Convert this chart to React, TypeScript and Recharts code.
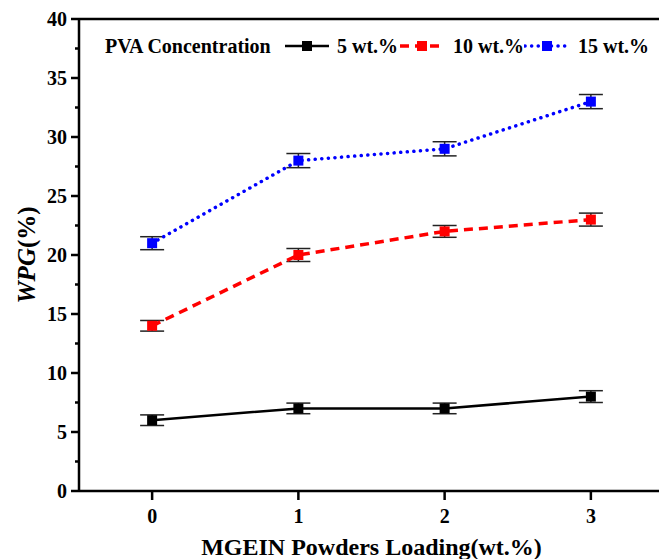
import { LineChart, Line, XAxis, YAxis, ErrorBar, ReferenceLine } from 'recharts';

const loadings = [0, 1, 2, 3];
const wpg5 = [6, 7, 7, 8];
const wpg10 = [14, 20, 22, 23];
const wpg15 = [21, 28, 29, 33];
const err5 = [0.45, 0.45, 0.45, 0.5];
const err10 = [0.45, 0.55, 0.5, 0.55];
const err15 = [0.55, 0.6, 0.6, 0.6];
const yTicks = [0, 2.5, 5, 7.5, 10, 12.5, 15, 17.5, 20, 22.5, 25, 27.5, 30, 32.5, 35, 37.5, 40];
const xTicks = [0, 1, 2, 3];

const data = loadings.map((x, i) => ({
  x,
  a: wpg5[i],
  b: wpg10[i],
  c: wpg15[i],
  ea: err5[i],
  eb: err10[i],
  ec: err15[i],
}));

const font = '"Liberation Serif", "Times New Roman", serif';

const series = [
  { key: 'a', err: 'ea', name: '5 wt.%', color: '#000000', dash: undefined as string | undefined, width: 2.5 },
  { key: 'b', err: 'eb', name: '10 wt.%', color: '#ff0000', dash: '9 6', width: 3.5 },
  { key: 'c', err: 'ec', name: '15 wt.%', color: '#0000ff', dash: '0.1 6.5', width: 3.5 },
];
// legend slot positions (swatch left, text left)
const legendSlots = [[284, 337], [399, 453], [524, 578]];

function squareDot(color: string) {
  return (props: any) => {
    const { cx, cy, index } = props;
    if (cx == null || cy == null) return <g key={index} />;
    return <rect key={index} x={cx - 5} y={cy - 5} width={10} height={10} fill={color} />;
  };
}

function YTick(props: any) {
  const { x, y, payload } = props;
  const axisX = x + 12;
  const major = payload.value % 5 === 0;
  return (
    <g>
      <line x1={axisX} x2={axisX - (major ? 8 : 4)} y1={y} y2={y} stroke="#000" strokeWidth={2.5} />
      {major && (
        <text x={x} y={y} dy="0.35em" textAnchor="end" fontFamily={font} fontWeight="bold" fontSize={20} fill="#000">
          {payload.value}
        </text>
      )}
    </g>
  );
}

function YLabel(props: any) {
  const { viewBox } = props;
  const cy = viewBox.y + viewBox.height / 2;
  return (
    <text x={35} y={cy} transform={`rotate(-90, 35, ${cy})`} textAnchor="middle" fontFamily={font} fontWeight="bold" fontSize={25} fill="#000">
      <tspan fontStyle="italic">WPG</tspan>
      <tspan>(%)</tspan>
    </text>
  );
}

function LegendBox() {
  const textStyle = { position: 'absolute' as const, top: 34, fontFamily: font, fontWeight: 'bold', fontSize: 20, lineHeight: '24px', color: '#000', whiteSpace: 'nowrap' as const };
  return (
    <>
      <span style={{ ...textStyle, left: 105 }}>PVA Concentration</span>
      {series.map((s, i) => (
        <span key={s.key}>
          <svg width={46} height={14} style={{ position: 'absolute', left: legendSlots[i][0], top: 39 }}>
            <line x1={1} x2={45} y1={7} y2={7} stroke={s.color} strokeWidth={s.width} strokeDasharray={s.dash} strokeLinecap={s.key === 'c' ? 'round' : 'butt'} />
            <rect x={18} y={2} width={10} height={10} fill={s.color} />
          </svg>
          <span style={{ ...textStyle, left: legendSlots[i][1] }}>{s.name}</span>
        </span>
      ))}
    </>
  );
}

export default function App() {
  return (
    <div style={{ position: 'absolute', left: 0, top: 0, width: 659, height: 559, overflow: 'hidden', background: '#fff' }}>
      <LineChart width={670} height={559} data={data} margin={{ top: 19, right: 6, bottom: 0, left: 0 }}>
        <XAxis
          dataKey="x"
          type="number"
          domain={[-0.5, 3.5]}
          ticks={xTicks}
          tickSize={9}
          tickMargin={9}
          height={68}
          stroke="#000"
          axisLine={{ strokeWidth: 2.5 }}
          tickLine={{ strokeWidth: 2.5 }}
          tick={{ fontFamily: font, fontWeight: 'bold', fontSize: 20, fill: '#000' }}
          label={{ value: 'MGEIN Powders Loading(wt.%)', position: 'insideBottom', offset: 4, fontFamily: font, fontWeight: 'bold', fontSize: 24, fill: '#000' }}
        />
        <YAxis
          type="number"
          domain={[0, 40]}
          ticks={yTicks}
          interval={0}
          width={79}
          tickSize={8}
          tickMargin={4}
          stroke="#000"
          axisLine={{ strokeWidth: 2.5 }}
          tickLine={false}
          tick={<YTick />}
          label={{ content: <YLabel /> }}
        />
        <ReferenceLine y={40} stroke="#000" strokeWidth={2.5} />
        <ReferenceLine x={3.5} stroke="#000" strokeWidth={2.5} />
        {series.map((s) => (
          <Line
            key={s.key}
            dataKey={s.key}
            name={s.name}
            stroke={s.color}
            strokeWidth={s.width}
            strokeDasharray={s.dash}
            strokeLinecap={s.key === 'c' ? 'round' : 'butt'}
            dot={squareDot(s.color)}
            activeDot={false}
            isAnimationActive={false}
          >
            <ErrorBar dataKey={s.err} width={12} stroke="#222" strokeWidth={1.5} direction="y" />
          </Line>
        ))}
      </LineChart>
      <LegendBox />
    </div>
  );
}
